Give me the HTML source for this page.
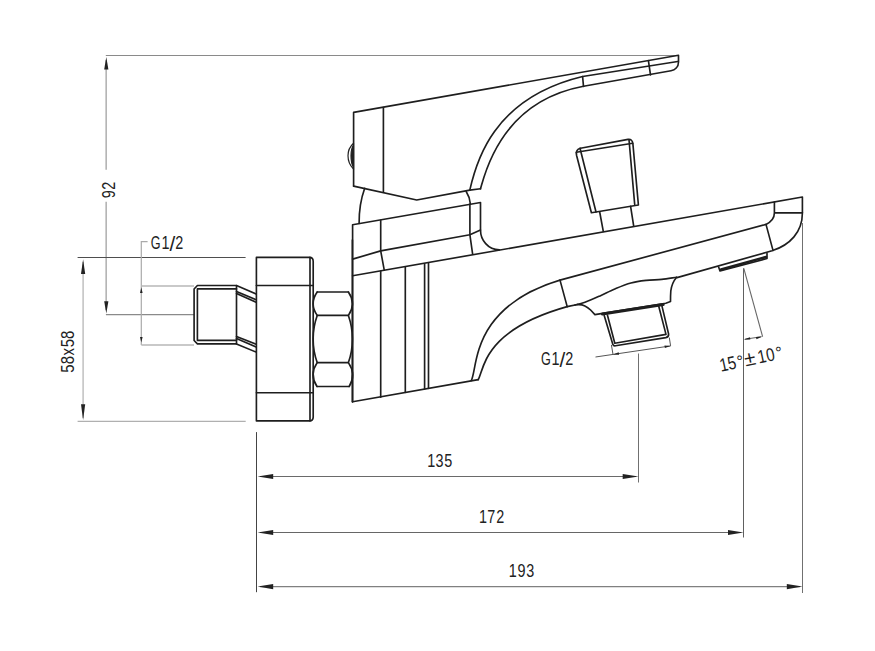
<!DOCTYPE html>
<html><head><meta charset="utf-8">
<style>
html,body{margin:0;padding:0;background:#fff;width:875px;height:651px;overflow:hidden}
svg{display:block}
text{font-family:"Liberation Sans",sans-serif;fill:#222}
</style></head><body>
<svg width="875" height="651" viewBox="0 0 875 651">
<rect width="875" height="651" fill="#fff"/>
<!-- dimension lines -->
<g fill="none" stroke="#666" stroke-width="1">
  <path d="M105.8 55.5H678.5" stroke="#8a8a8a"/>
  <path d="M106.15 60V169.7M106.15 201.7V310" stroke="#a8a8a8" stroke-width="1.4"/>
  <path d="M105.9 314.6H194" stroke="#8a8a8a" stroke-width="1.1"/>
  <path d="M83.1 262V418" stroke="#bbb" stroke-width="1.4"/>
  <path d="M77.6 257.5H245.6" stroke="#4e4e4e"/>
  <path d="M77.6 421.3H245.7" stroke="#b0b0b0" stroke-width="1.3"/>
  <path d="M141.3 345V241.7H147.6" stroke="#aaa" stroke-width="1.2"/>
  <path d="M141.3 286H194M141.3 345H194" stroke="#b8b8b8" stroke-width="1.5"/>
  <path d="M260 476.5H636" stroke="#6a6a6a"/>
  <path d="M260 532.5H741" stroke="#666"/>
  <path d="M260 586.6H800" stroke="#808080" stroke-width="1.1"/>
  <path d="M256.5 432.1V592.2" stroke="#444"/>
  <path d="M638.5 353.5V482.5M802.5 223V593" stroke="#707070"/>
  <path d="M743.5 268.3V537.5" stroke="#606060"/>
  <path d="M743.8 268.3L762.6 336.6" stroke-width="1.1"/>
  <path d="M745 339.3L761 336.8" stroke-width="1.1"/>
  <path d="M595.5 357L670.6 345.9M611.4 344.9L613 354.4M669.3 337.5L670.6 345.9" stroke="#555" stroke-width="1"/>
</g>
<g fill="#222" stroke="none">
  <path d="M106.3 57.1L104.2 69.5H108.4Z"/>
  <path d="M106.3 313.6L104.2 301.2H108.4Z"/>
  <path d="M83.1 259.2L81 274.1H85.2Z"/>
  <path d="M83.1 420L81 404.3H85.2Z"/>
  <path d="M257.6 476.5L273.2 473.9V479.1Z"/>
  <path d="M638.5 476.5L622.7 473.9V479.1Z"/>
  <path d="M257.6 532.5L273.2 529.9V535.1Z"/>
  <path d="M743.5 532.5L728 529.9V535.1Z"/>
  <path d="M257.6 586.6L273.2 584V589.2Z"/>
  <path d="M802.5 586.6L786.8 584V589.2Z"/>
  <path d="M141.3 287.5L140 293H142.6Z"/>
  <path d="M141.3 342.5L140 337H142.6Z"/>
  <path d="M743.6 339.4L750 337.2L750.3 339.6Z"/>
  <path d="M762.6 336.6L756 336.9L756.4 339.2Z"/>
  <path d="M613 354.4L619.1 354.7L618.7 352.3Z"/>
  <path d="M670.6 345.9L664.9 348L664.5 345.6Z"/>
</g>
<!-- texts -->
<g fill="#1e1e1e" stroke="none">
  <text transform="translate(0 467.10) scale(0.800 1)" x="534.00 544.32 555.40" y="0" font-size="18.0">135</text>
  <text transform="translate(0 523.10) scale(0.800 1)" x="598.88 608.96 620.35" y="0" font-size="18.0">172</text>
  <text transform="translate(0 577.30) scale(0.800 1)" x="636.00 646.90 657.94" y="0" font-size="18.0">193</text>
  <text transform="translate(0 248.70) scale(0.700 1)" x="215.39" y="0" font-size="18.0">G</text>
  <text transform="translate(0 248.70) scale(0.800 1)" x="201.75" y="0" font-size="18.0">1</text>
  <text transform="translate(169.40 250.62) scale(1.150 1.128)" x="0" y="0" font-size="18.0">/</text>
  <text transform="translate(0 248.70) scale(0.800 1)" x="218.97" y="0" font-size="18.0">2</text>
  <text transform="translate(0 364.60) scale(0.700 1)" x="772.81" y="0" font-size="18.0">G</text>
  <text transform="translate(0 364.60) scale(0.800 1)" x="689.50" y="0" font-size="18.0">1</text>
  <text transform="translate(559.60 366.52) scale(1.150 1.128)" x="0" y="0" font-size="18.0">/</text>
  <text transform="translate(0 364.60) scale(0.800 1)" x="706.72" y="0" font-size="18.0">2</text>
  <g transform="translate(115.1 197.5) rotate(-90)"><text transform="scale(0.800 1)" x="-0.85 9.85" y="0" font-size="18.0">92</text></g>
  <g transform="translate(73.8 372.1) rotate(-90)"><text transform="scale(0.840 1)" x="-0.71 9.35 19.91 29.53 39.47" y="0" font-size="17.8">58x58</text></g>
  <g transform="translate(721.5 371.6) rotate(-12)"><text transform="scale(0.820 1)" x="-0.52 9.50" y="0" font-size="18.5">15</text><text transform="scale(0.820 1)" x="46.92 57.33" y="0" font-size="18.5">10</text><text x="17.2" y="-0.6" font-size="16.5" fill="#555">°</text><text x="24.75" y="0.1" font-size="20.4" fill="#333">±</text><text x="57.0" y="-1.1" font-size="16.5" fill="#555">°</text></g>
</g>
<!-- part outlines -->
<g fill="none" stroke="#1e1e1e" stroke-width="1.65" stroke-linejoin="round" stroke-linecap="round">
  <!-- handle -->
  <path d="M353.6 186.1V112.4L678.5 55.3V62C678.5 67 675 70 671 70.7L583.5 86.3"/>
  <path d="M353.6 186.1L416.7 200L469.8 190.1L480.5 188.8"/>
  <path d="M383.4 107.6V192.1"/>
  <path d="M469.8 190.1C475.8 163.4 492.1 98.2 582.6 76.5L677.7 61.5"/>
  <path d="M480.5 188.8C484.7 174.9 499.6 102.2 583.5 86.3"/>
  <path d="M582.6 76.5L583.5 86.3M648.4 60.7L650.5 74.9"/>
  <!-- lever -->
  <path d="M591.4 212.7L576.6 155.5C575.8 151.5 577 149 580.5 148.3L628 139.4C631 139 632.6 140.6 632.9 143.8L638.4 205Z"/>
  <path d="M576.3 152.3L632.7 143.3M580 148.2L596 212M629 139.8L634.7 204.4"/>
  <path d="M599.7 212L603.3 231.3M630.6 206.4L633.7 226.2"/>
  <!-- gap arcs -->
  <path d="M364.7 188.3C360.5 200 359 212 359.1 223.4"/>
  <path d="M466.2 191.5C469 196 470 199 470.3 203.5"/>
  <!-- body -->
  <path d="M352.6 401.7V224.8L480.5 202.5V230C480.5 240 488 249.8 499.4 249.8"/>
  <path d="M352.6 401.7L478.3 379.6"/>
  <path d="M352.6 259.1L380.7 250.9L469.9 234.8L480.5 230"/>
  <path d="M352.6 275.8L802.4 197V213C802.4 232 790 245 772 250.8L677 277.6"/>
  <path d="M380.7 220.4V250.9L384.2 269.9M380.7 271V397.2"/>
  <path d="M469.9 204.1V234.8L472.6 253.9"/>
  <path d="M405.3 266.8V392.3M424.6 263.9V388.9M428.5 263.3V388.3"/>
  <!-- spout underside -->
  <path d="M471.3 380.5C477.9 368.4 470.2 307.1 560 280.1L766 224.4"/>
  <path d="M478.2 379.7C484.3 369.2 482.9 330.2 567.2 306.6L577.5 304.5"/>
  <path d="M560 280.1L567.2 306.6"/>
  <path d="M575.0 305.0C576.7 304.6 580.8 303.8 585.0 302.3C589.2 300.8 594.9 298.2 600.0 295.9C605.1 293.6 610.2 290.8 615.4 288.7C620.5 286.6 625.8 284.4 630.9 283.0C636.0 281.6 641.2 281.0 646.3 280.4C651.4 279.8 656.7 279.9 661.7 279.4C666.8 278.9 674.1 277.6 676.6 277.3"/>
  <path d="M577.5 304.5L578 304.6C582 304.3 587 306.5 590.6 310L594.9 314.6L665.8 303.2L670.5 301.5C670.5 301.5 670.5 295 670.8 291C671.5 285 673.5 281 676.6 277.3"/>
  <path d="M774.4 202V212.8C774.4 218 771 222 766 224.4L773 250.4M774.4 212.8H802.4"/>
  <!-- aerator -->
  <path d="M718.6 267L720 271L767 258.5V253.4"/>
  <path d="M721 269.5L766 257" stroke-width="2.5"/>
  <!-- outlet -->
  <path d="M602.4 314.1L663.2 304.5" stroke-width="3"/>
  <path d="M604.2 315.5L612.8 344.2C613.2 345.6 614 346 615.5 345.8L665.8 337.6C667.8 337.2 668.8 336 668.6 334L661.8 305.4"/>
  <path d="M607.4 315L614.8 343.2L666 334.4L658.6 305.8"/>
  <!-- union -->
  <path d="M256.4 420.9V257.4H309.5C311.8 257.4 313.2 259 313.2 261.5V417C313.2 419.3 311.8 420.9 309.5 420.9Z"/>
  <path d="M256.4 285.5H313.2M256.4 392.7H313.2M310 257.4V420.9"/>
  <!-- hex nut -->
  <path d="M352.4 240V402"/>
  <path d="M317.2 292H348.4M317.2 315.4H348.4M317.2 362.6H348.4M317 386.5H349.2"/>
  <path d="M317.2 292Q309 303.7 317.2 315.4Q309 339 317.2 362.6Q309 374.5 317 386.5"/>
  <path d="M348.4 292Q356.5 303.7 348.4 315.4Q356.5 339 348.4 362.6Q356.5 374.5 349.2 386.5"/>
  <!-- pipe -->
  <path d="M236.5 285.5H197.4L194.1 289V340.5L197.4 343.9H236.5Z"/>
  <path d="M197.4 288.9H236.5M197.4 340.4H236.5M197.4 288.9V340.4"/>
  <path d="M236.5 285.5L256.1 294M236.5 291.5L256.1 299.7M236.5 293.5L256.1 302.3"/>
  <path d="M236.5 336.5L256.1 344.2M236.5 338.5L256.1 347M236.5 343.9L256.1 352.1"/>
</g>
<!-- knob -->
<path d="M353.5 143.3C350.5 146 348 151 348 155.7C348 161 350.5 166 353.5 169" fill="none" stroke="#222" stroke-width="1.2"/>
<path d="M353.5 145C351.5 148 351 152 351 155.7C351 160 351.5 164 353.5 167.5Z" fill="#222" stroke="#222" stroke-width="1.2"/>
</svg>
</body></html>
